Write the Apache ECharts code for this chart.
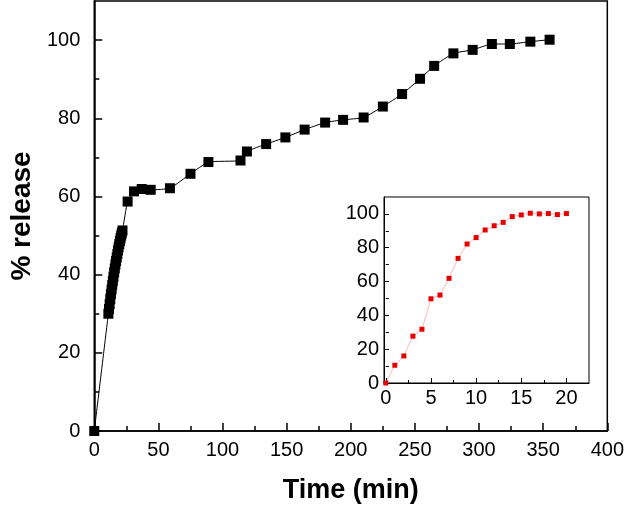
<!DOCTYPE html>
<html>
<head>
<meta charset="utf-8">
<script src="https://cdn.jsdelivr.net/npm/echarts@6/dist/echarts.min.js"></script>
<style>html,body{margin:0;padding:0;background:#fff}#c{width:627px;height:512px}</style>
</head>
<body>
<div id="c"></div>
<script>
// Main curve: time (min) and % release
var mainTime = [0, 11, 11.5, 12, 12.5, 13, 13.5, 14, 14.5, 15, 15.5, 16, 16.5, 17, 17.5, 18, 18.5, 19, 19.5, 20, 20.5, 21, 21.5, 22, 26, 31, 37, 44, 59, 75, 89, 114, 119, 134, 149, 164, 180, 194, 210, 225, 240, 254, 265, 280, 295, 310, 324, 340, 355];
var mainRelease = [0, 30.0, 31.2, 32.5, 33.8, 35.0, 36.2, 37.3, 38.4, 39.5, 40.6, 41.6, 42.6, 43.5, 44.4, 45.3, 46.2, 47.0, 47.8, 48.6, 49.3, 50.0, 50.7, 51.3, 58.7, 61.3, 61.9, 61.7, 62.1, 65.8, 68.8, 69.2, 71.5, 73.4, 75.1, 77.1, 78.9, 79.6, 80.2, 83.0, 86.2, 90.1, 93.4, 96.6, 97.5, 99.0, 99.0, 99.6, 100.1];
// Inset curve
var insetTime = [0, 1, 2, 3, 4, 5, 6, 7, 8, 9, 10, 11, 12, 13, 14, 15, 16, 17, 18, 19, 20];
var insetRelease = [0, 10.5, 16.0, 27.7, 31.8, 49.8, 52.0, 61.9, 73.7, 82.2, 86.0, 90.5, 93.0, 95.0, 98.4, 99.4, 100.4, 100.0, 100.2, 99.6, 100.2];
// Tick labels
var mainXTicks = [0, 50, 100, 150, 200, 250, 300, 350, 400];
var mainXMinor = [25, 75, 125, 175, 225, 275, 325, 375];
var mainYTicks = [0, 20, 40, 60, 80, 100];
var mainYMinor = [10, 30, 50, 70, 90];
var insetXTicks = [0, 5, 10, 15, 20];
var insetXMinor = [2.5, 7.5, 12.5, 17.5];
var insetYTicks = [0, 20, 40, 60, 80, 100];
var insetYMinor = [10, 30, 50, 70, 90];

function pairs(xs, ys) { return xs.map(function (x, i) { return [x, ys[i]]; }); }

var FONT = '"Liberation Sans", Arial, sans-serif';
var black = '#000';

function axisX(grid, min, max, major, minor, opts) {
  var a = [{
    type: 'value', gridIndex: grid, min: min, max: max,
    axisLine: { show: true, onZero: false, lineStyle: { color: black, width: opts.lw } },
    axisTick: { show: true, inside: true, length: opts.tl, customValues: major, lineStyle: { color: black, width: opts.lw } },
    axisLabel: { show: true, customValues: major, color: black, fontSize: opts.fs, fontFamily: FONT, margin: opts.lm },
    splitLine: { show: false }
  }, {
    type: 'value', gridIndex: grid, min: min, max: max, position: 'bottom',
    axisLine: { show: false },
    axisTick: { show: true, inside: true, length: opts.mtl, customValues: minor, lineStyle: { color: black, width: opts.lw } },
    axisLabel: { show: false },
    splitLine: { show: false }
  }];
  if (opts.name) {
    a[0].name = opts.name;
    a[0].nameLocation = 'middle';
    a[0].nameGap = opts.nameGap;
    a[0].nameTextStyle = { fontSize: opts.nfs, fontWeight: 'bold', color: black, fontFamily: FONT };
  }
  return a;
}
function axisY(grid, min, max, major, minor, opts) {
  var a = [{
    type: 'value', gridIndex: grid, min: min, max: max,
    axisLine: { show: true, onZero: false, lineStyle: { color: black, width: opts.lw } },
    axisTick: { show: true, inside: true, length: opts.tl, customValues: major, lineStyle: { color: black, width: opts.lw } },
    axisLabel: { show: true, customValues: major, color: black, fontSize: opts.fs, fontFamily: FONT, margin: opts.lm },
    splitLine: { show: false }
  }, {
    type: 'value', gridIndex: grid, min: min, max: max, position: 'left',
    axisLine: { show: false },
    axisTick: { show: true, inside: true, length: opts.mtl, customValues: minor, lineStyle: { color: black, width: opts.lw } },
    axisLabel: { show: false },
    splitLine: { show: false }
  }];
  if (opts.name) {
    a[0].name = opts.name;
    a[0].nameLocation = 'middle';
    a[0].nameGap = opts.nameGap;
    a[0].nameTextStyle = { fontSize: opts.nfs, fontWeight: 'bold', color: black, fontFamily: FONT };
  }
  return a;
}

var xAxes = axisX(0, 0, 400, mainXTicks, mainXMinor, { lw: 1.5, tl: 8, mtl: 5, fs: 20, lm: 9, name: 'Time (min)', nameGap: 46, nfs: 27 })
  .concat(axisX(1, -0.2, 22.5, insetXTicks, insetXMinor, { lw: 1, tl: 5, mtl: 3, fs: 20, lm: 5 }));
var yAxes = axisY(0, 0, 110, mainYTicks, mainYMinor, { lw: 1.5, tl: 8, mtl: 5, fs: 20, lm: 14, name: '% release', nameGap: 58, nfs: 28 })
  .concat(axisY(1, 0, 110, insetYTicks, insetYMinor, { lw: 1, tl: 5, mtl: 3, fs: 20, lm: 5 }));

var chart = echarts.init(document.getElementById('c'), null, { renderer: 'canvas' });
chart.setOption({
  animation: false,
  backgroundColor: '#fff',
  grid: [
    { left: 92, right: 10, top: 1, bottom: 81, show: true, borderColor: black, borderWidth: 1.5, backgroundColor: 'transparent' },
    { left: 384, top: 197, width: 205, height: 186, show: true, borderColor: black, borderWidth: 1, backgroundColor: '#fff' }
  ],
  xAxis: xAxes,
  yAxis: yAxes,
  series: [
    {
      type: 'line', xAxisIndex: 0, yAxisIndex: 0,
      data: pairs(mainTime, mainRelease),
      symbol: 'rect', symbolSize: 10,
      itemStyle: { color: black },
      lineStyle: { color: black, width: 1 },
      smooth: 0.15
    },
    {
      type: 'line', xAxisIndex: 2, yAxisIndex: 2,
      data: pairs(insetTime, insetRelease),
      symbol: 'rect', symbolSize: 5,
      itemStyle: { color: '#e60000' },
      lineStyle: { color: '#f7a8a8', width: 0.8 }
    }
  ]
});
</script>
</body>
</html>
